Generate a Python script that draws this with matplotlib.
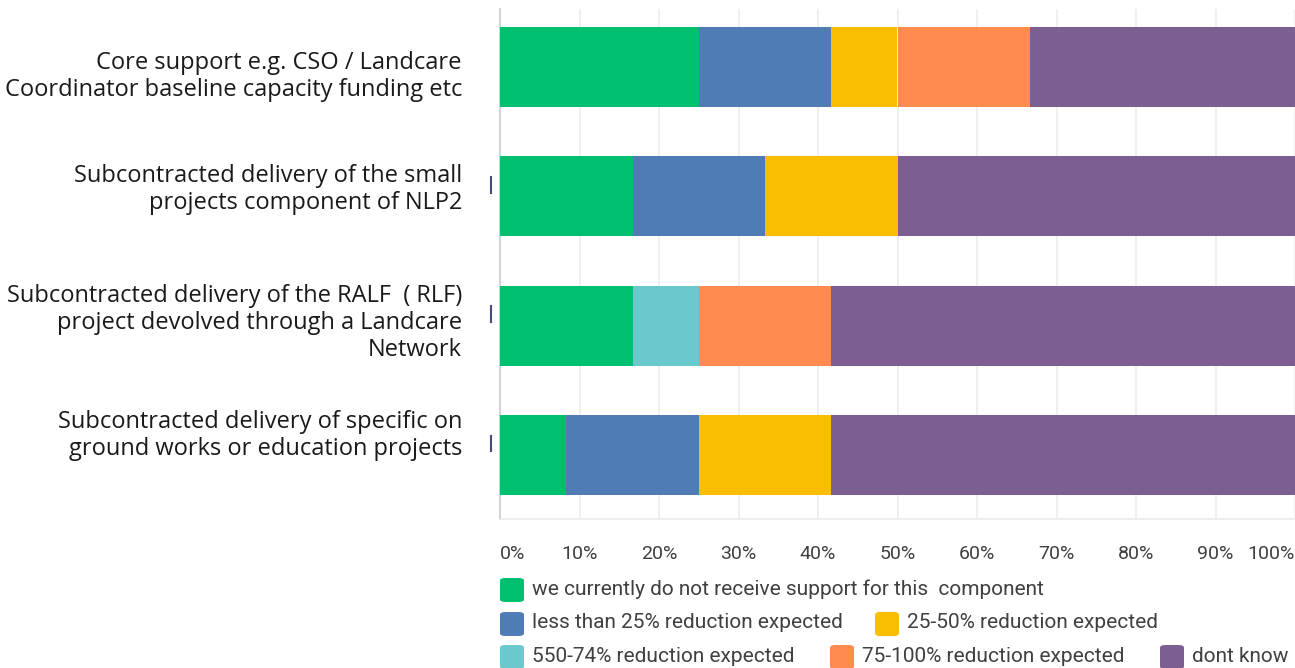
import numpy as np
import matplotlib.pyplot as plt
from matplotlib.patches import FancyBboxPatch

categories = [
    "Core support e.g. CSO / Landcare\nCoordinator baseline capacity funding etc",
    "Subcontracted delivery of the small\nprojects component of NLP2",
    "Subcontracted delivery of the RALF  ( RLF)\nproject devolved through a Landcare\nNetwork",
    "Subcontracted delivery of specific on\nground works or education projects",
]
series_names = [
    "we currently do not receive support for this  component",
    "less than 25% reduction expected",
    "25-50% reduction expected",
    "550-74% reduction expected",
    "75-100% reduction expected",
    "dont know",
]
# percentages per category, in series order
values = {
    "we currently do not receive support for this  component": [25.0, 16.67, 16.67, 8.33],
    "less than 25% reduction expected": [16.67, 16.67, 0.0, 16.67],
    "25-50% reduction expected": [8.33, 16.66, 0.0, 16.67],
    "550-74% reduction expected": [0.0, 0.0, 8.33, 0.0],
    "75-100% reduction expected": [16.67, 0.0, 16.67, 0.0],
    "dont know": [33.33, 50.0, 58.33, 58.33],
}
colors = ["#00BF6F", "#507CB6", "#F9BE00", "#6BC8CD", "#FF8B4F", "#7D5E90"]
xticks = np.arange(0, 101, 10)
xticklabels = [f"{t}%" for t in xticks]

fig = plt.figure(figsize=(12.95, 6.68), dpi=100)
ax = fig.add_axes([500 / 1295, 1 - 519 / 668, 795 / 1295, 510 / 668])

y = np.arange(len(categories))
left = np.zeros(len(categories))
for name, c in zip(series_names, colors):
    v = np.array(values[name])
    ax.barh(y, v, left=left, height=0.62, color=c, edgecolor="none", zorder=3)
    left += v

ax.set_xlim(0, 100)
ax.set_ylim(3.496, -0.45)
ax.set_xticks(xticks)
ax.grid(axis="x", color="#ededed", lw=1.2, zorder=0)
for s in ["top", "right"]:
    ax.spines[s].set_visible(False)
ax.spines["left"].set_color("#d4d4d4")
ax.spines["left"].set_linewidth(1.5)
ax.spines["bottom"].set_color("#ebebeb")
ax.spines["bottom"].set_linewidth(1.2)
ax.tick_params(axis="both", length=0)

ax.set_xticklabels(xticklabels, fontsize=14, color="#404040", family="Roboto")
ax.tick_params(axis="x", pad=19)
lbls = ax.get_xticklabels()
lbls[0].set_horizontalalignment("left")
lbls[-1].set_horizontalalignment("right")

# category labels, slightly off-centre like the original
ax.set_yticks(y)
ax.set_yticklabels([])
label_shift = [0.07, -0.05, -0.02, -0.15]
for yy, lab, dy in zip(y, categories, label_shift):
    ax.text(-38 / 795 * 100, yy + dy, lab, fontsize=17, color="#1a1a1a",
            family="Open Sans", ha="right", va="center", linespacing=1.17)

# small marks next to the axis
for yy in y[1:]:
    ax.plot([-1.1, -1.1], [yy - 0.15, yy - 0.03], color="#4a4a7a", lw=1.5,
            clip_on=False, zorder=5)

# legend drawn by hand
W, H = 1295, 668
legend_pos = [(500, 590), (500, 624), (875, 624), (500, 657), (830, 657), (1160, 657)]
for (px, py), name, c in zip(legend_pos, series_names, colors):
    fig.patches.append(FancyBboxPatch((px / W, 1 - (py + 12) / H), 24 / W, 24 / H,
                                      boxstyle="round,pad=0,rounding_size=0.004",
                                      transform=fig.transFigure, facecolor=c,
                                      edgecolor="none"))
    fig.text((px + 32) / W, 1 - (py - 1) / H, name, fontsize=15, color="#404040",
             family="Roboto", va="center", ha="left")

fig.savefig("out.png", dpi=100)
